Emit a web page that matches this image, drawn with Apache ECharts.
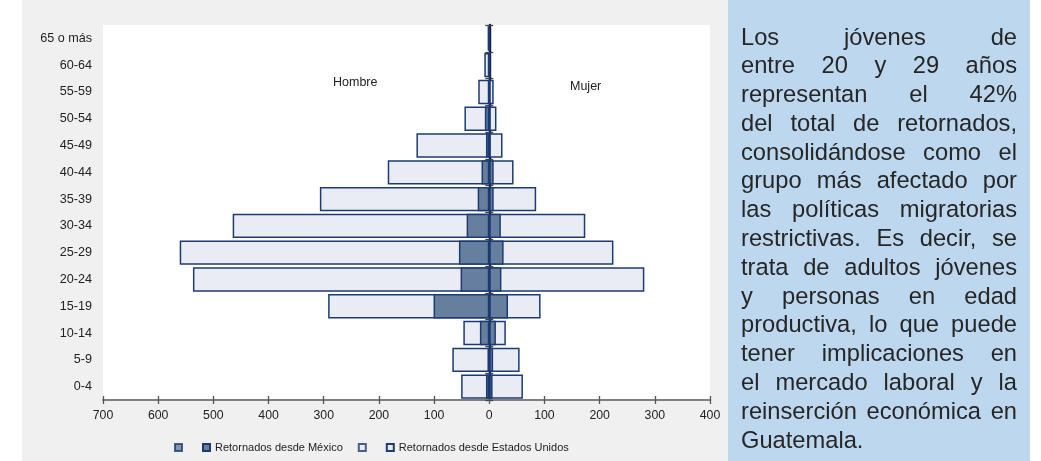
<!DOCTYPE html>
<html>
<head>
<meta charset="utf-8">
<script src="https://cdn.jsdelivr.net/npm/echarts@6/dist/echarts.min.js"></script>
<style>
html,body{margin:0;padding:0;background:#fff;width:1041px;height:461px;overflow:hidden;}
#chart{position:absolute;left:0;top:0;width:1041px;height:461px;}
#note{position:absolute;left:741px;top:22.5px;width:276px;font-family:'Liberation Sans',Arial,sans-serif;font-size:23.7px;line-height:28.8px;color:#262626;}
#note .j{text-align:justify;text-align-last:justify;white-space:nowrap;}
#note .l{text-align:left;}
</style>
</head>
<body>
<div id="chart"></div>
<div id="note">
<div class="j">Los jóvenes de</div>
<div class="j">entre 20 y 29 años</div>
<div class="j">representan el 42%</div>
<div class="j">del total de retornados,</div>
<div class="j">consolidándose como el</div>
<div class="j">grupo más afectado por</div>
<div class="j">las políticas migratorias</div>
<div class="j">restrictivas. Es decir, se</div>
<div class="j">trata de adultos jóvenes</div>
<div class="j">y personas en edad</div>
<div class="j">productiva, lo que puede</div>
<div class="j">tener implicaciones en</div>
<div class="j">el mercado laboral y la</div>
<div class="j">reinserción económica en</div>
<div class="l">Guatemala.</div>
</div>
<script>
// Data (bottom to top)
const categories = ['0-4','5-9','10-14','15-19','20-24','25-29','30-34','35-39','40-44','45-49','50-54','55-59','60-64','65 o más'];
const usHombre = [51, 67, 47, 292, 537, 561, 465, 307, 184, 132, 45, 20, 9, 3];
const usMujer  = [61, 55, 30, 93, 281, 225, 174, 85, 44, 24, 13, 8, 2, 1];
const mxHombre = [6, 3, 17, 101, 52, 55, 41, 21, 14, 6, 8, 0, 0, 1];
const mxMujer  = [6, 7, 12, 34, 22, 26, 21, 8, 8, 2, 1, 0, 0, 0];
const legendNames = ['\u200b', 'Retornados desde México', '\u200b\u200b', 'Retornados desde Estados Unidos'];
const sexLabels = ['Hombre', 'Mujer'];

const FONT = 'Liberation Sans, Arial, sans-serif';
const NAVY = '#1d3b72';
const DARK = '#677f9f';
const LIGHT = '#e9edf3';

const chart = echarts.init(document.getElementById('chart'));
const axisCommon = {type: 'value', min: -700, max: 400, interval: 100, splitLine: {show: false}};
const barCommon = {type: 'bar', barGap: '-100%', barCategoryGap: '9%', xAxisIndex: 0, yAxisIndex: 0};

chart.setOption({
  animation: false,
  textStyle: {fontFamily: FONT},
  graphic: [
    {type: 'rect', z: -10, shape: {x: 22, y: 0, width: 706, height: 461}, style: {fill: '#f0f0f0'}},
    {type: 'rect', z: -10, shape: {x: 728, y: 0, width: 302, height: 461}, style: {fill: '#bdd7ee'}},
    {type: 'text', x: 333, y: 83, style: {text: sexLabels[0], fill: '#222', font: '12.5px ' + FONT, verticalAlign: 'middle'}},
    {type: 'text', x: 570, y: 87, style: {text: sexLabels[1], fill: '#222', font: '12.5px ' + FONT, verticalAlign: 'middle'}}
  ],
  grid: {left: 103, right: 331, top: 25, bottom: 61, show: true, backgroundColor: '#fff', borderWidth: 0},
  xAxis: [
    Object.assign({}, axisCommon, {
      position: 'bottom',
      axisLine: {show: true, lineStyle: {color: '#7f7f7f', width: 2}},
      axisTick: {show: true, length: 4, lineStyle: {color: '#555', width: 1.3}},
      axisLabel: {formatter: v => String(Math.abs(v)), color: '#222', fontSize: 12.3, fontFamily: FONT, margin: 10}
    }),
    Object.assign({}, axisCommon, {
      position: 'bottom',
      axisLine: {show: false},
      axisTick: {show: true, inside: true, length: 4, lineStyle: {color: '#555', width: 1.3}},
      axisLabel: {show: false}
    })
  ],
  yAxis: [
    {type: 'category', data: categories,
     axisLine: {show: false, onZero: false}, axisTick: {show: false},
     axisLabel: {color: '#222', fontSize: 12.6, fontFamily: FONT, margin: 11}},
    {type: 'category', data: categories,
     axisLine: {show: true, onZero: true, onZeroAxisIndex: 0, lineStyle: {color: '#0a1630', width: 2.4}},
     axisTick: {show: true, length: 4, lineStyle: {color: '#444', width: 1.3}},
     axisLabel: {show: false}},
    {type: 'category', data: categories,
     axisLine: {show: false, onZero: true, onZeroAxisIndex: 0},
     axisTick: {show: true, inside: true, length: 4, lineStyle: {color: '#444', width: 1.3}},
     axisLabel: {show: false}}
  ],
  legend: {
    left: 174, top: 442, padding: 0, itemWidth: 7, itemHeight: 7, itemGap: 15, icon: 'rect',
    data: legendNames,
    textStyle: {fontSize: 11, color: '#222', fontFamily: FONT}
  },
  series: [
    Object.assign({}, barCommon, {name: legendNames[3], data: usHombre.map(v => -v),
      itemStyle: {color: LIGHT, borderColor: NAVY, borderWidth: 1.5}}),
    Object.assign({}, barCommon, {name: legendNames[3], data: usMujer,
      itemStyle: {color: LIGHT, borderColor: NAVY, borderWidth: 1.5}}),
    Object.assign({}, barCommon, {name: legendNames[1], data: mxHombre.map(v => -v),
      itemStyle: {color: DARK, borderColor: NAVY, borderWidth: 1.5}}),
    Object.assign({}, barCommon, {name: legendNames[1], data: mxMujer,
      itemStyle: {color: DARK, borderColor: NAVY, borderWidth: 1.5}}),
    {name: legendNames[0], type: 'scatter', data: [], itemStyle: {color: DARK, borderColor: NAVY, borderWidth: 1.5}},
    {name: legendNames[2], type: 'scatter', data: [], itemStyle: {color: LIGHT, borderColor: NAVY, borderWidth: 1.5}}
  ]
});
</script>
</body>
</html>
